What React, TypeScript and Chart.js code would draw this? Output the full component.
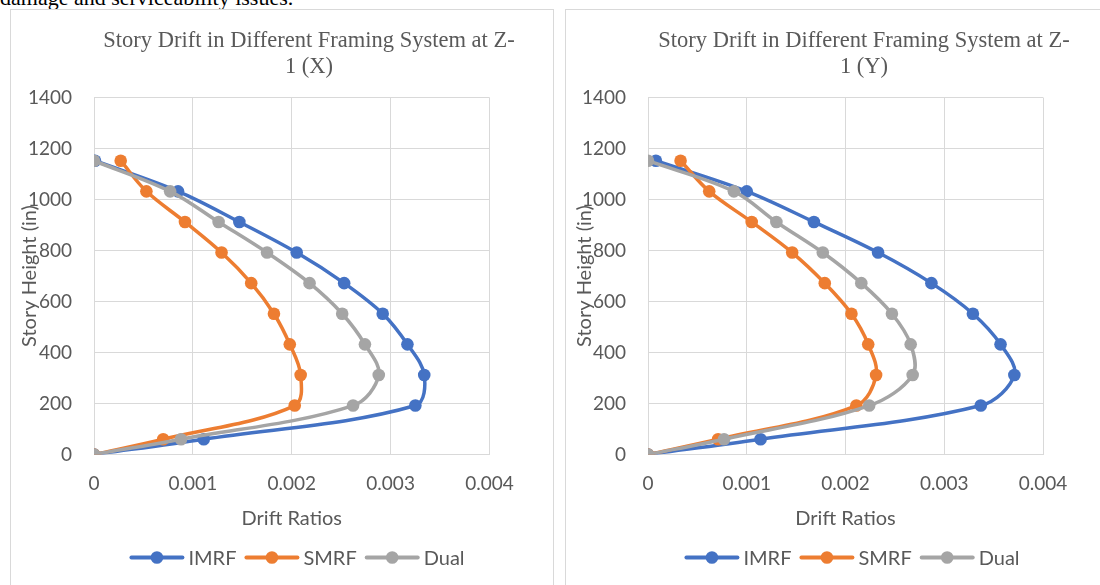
import React, { useEffect, useRef } from 'react';
import { Chart, registerables } from 'chart.js';

Chart.register(...registerables);

// ---------- data ----------
const storyHeights = [0, 60, 192, 312, 432, 552, 672, 792, 912, 1032, 1152];

const seriesNames = ['IMRF', 'SMRF', 'Dual'];
const seriesColors = ['#4472C4', '#ED7D31', '#A5A5A5'];

// Z-1 (X) drift ratios
const imrfX = [0, 0.00111, 0.00325, 0.00334, 0.00317, 0.00292, 0.00253, 0.00205, 0.00147, 0.00085, 0.00001];
const smrfX = [0, 0.0007, 0.00203, 0.00209, 0.00198, 0.00182, 0.00159, 0.00129, 0.00092, 0.00053, 0.00027];
const dualX = [0, 0.00088, 0.00262, 0.00288, 0.00274, 0.00251, 0.00218, 0.00175, 0.00126, 0.00077, 0];

// Z-1 (Y) drift ratios
const imrfY = [0, 0.00114, 0.00337, 0.00371, 0.00357, 0.00329, 0.00287, 0.00233, 0.00168, 0.001, 0.00008];
const smrfY = [0, 0.00071, 0.00211, 0.00231, 0.00223, 0.00206, 0.00179, 0.00146, 0.00105, 0.00062, 0.00033];
const dualY = [0, 0.00077, 0.00224, 0.00268, 0.00266, 0.00247, 0.00216, 0.00177, 0.0013, 0.00087, 0];

const xTickLabels = ['0', '0.001', '0.002', '0.003', '0.004'];
const yTickLabels = ['0', '200', '400', '600', '800', '1000', '1200', '1400'];

const titleX = ['Story Drift in Different Framing System at Z-', '1 (X)'];
const titleY = ['Story Drift in Different Framing System at Z-', '1 (Y)'];
const xAxisTitle = 'Drift Ratios';
const yAxisTitle = 'Story Height (in)';
const pageText = 'damage and serviceability issues.';

// ---------- styling ----------
const SANS = 'Lato, "Open Sans", sans-serif';
const SERIF = '"Liberation Serif", "Times New Roman", serif';
const TEXT = '#595959';
const GRID = '#d9d9d9';
const CANVAS_W = 542;
const CANVAS_H = 580;
const TICK_SIZE = 19;
const LABEL_SIZE = 20;

const decorPlugin = {
  id: 'excelDecor',
  afterDraw(chart: any, _args: any, opts: any) {
    const ctx = chart.ctx;
    ctx.save();
    // title
    ctx.font = `${opts.titleSize}px ${SERIF}`;
    ctx.fillStyle = TEXT;
    ctx.textAlign = 'center';
    ctx.textBaseline = 'alphabetic';
    (opts.title as string[]).forEach((t, i) => {
      ctx.fillText(t, opts.titleCx, opts.titleBase + i * opts.titleGap);
    });
    // legend
    ctx.font = `${LABEL_SIZE}px ${SANS}`;
    ctx.textAlign = 'left';
    ctx.textBaseline = 'middle';
    const lineLen = 51;
    const gapLT = 6;
    const gapItem = 10;
    const widths = seriesNames.map((n) => ctx.measureText(n).width);
    const total =
      widths.reduce((a, w) => a + lineLen + gapLT + w, 0) + gapItem * (seriesNames.length - 1);
    let x = opts.legendCx - total / 2;
    const y = opts.legendY;
    seriesNames.forEach((n, i) => {
      ctx.strokeStyle = seriesColors[i];
      ctx.lineWidth = 4;
      ctx.lineCap = 'round';
      ctx.beginPath();
      ctx.moveTo(x, y);
      ctx.lineTo(x + lineLen, y);
      ctx.stroke();
      ctx.fillStyle = seriesColors[i];
      ctx.beginPath();
      ctx.arc(x + lineLen / 2, y, 6.3, 0, Math.PI * 2);
      ctx.fill();
      ctx.fillStyle = TEXT;
      ctx.fillText(n, x + lineLen + gapLT, y + 1);
      x += lineLen + gapLT + widths[i] + gapItem;
    });
    ctx.restore();
  },
};

type Props = {
  title: string[];
  values: number[][];
  areaLeft: number;
  areaRight: number;
  areaTop: number;
  areaBottom: number;
};

function DriftChart({ title, values, areaLeft, areaRight, areaTop, areaBottom }: Props) {
  const ref = useRef<HTMLCanvasElement>(null);
  useEffect(() => {
    const xScaleH = 80;
    const chart = new Chart(ref.current as HTMLCanvasElement, {
      type: 'scatter',
      data: {
        datasets: seriesNames.map((name, i) => ({
          label: name,
          data: values[i].map((v, k) => ({ x: v, y: storyHeights[k] })),
          showLine: true,
          borderColor: seriesColors[i],
          backgroundColor: seriesColors[i],
          pointBackgroundColor: seriesColors[i],
          pointBorderColor: seriesColors[i],
          borderWidth: 3.5,
          pointRadius: 6.3,
          pointBorderWidth: 0,
          tension: 0.35,
          order: seriesNames.length - i,
        })),
      },
      options: {
        animation: false,
        responsive: false,
        devicePixelRatio: 1,
        layout: {
          padding: {
            left: 0,
            top: areaTop,
            right: CANVAS_W - areaRight,
            bottom: CANVAS_H - areaBottom - xScaleH,
          },
        },
        plugins: {
          legend: { display: false },
          title: { display: false },
          tooltip: { enabled: false },
          excelDecor: {
            title,
            titleSize: 22.5,
            titleCx: 298,
            titleBase: 37,
            titleGap: 26,
            legendCx: 287,
            legendY: 547.5,
          },
        } as any,
        scales: {
          x: {
            type: 'linear',
            min: 0,
            max: 0.004,
            afterFit: (s: any) => {
              s.height = xScaleH;
            },
            ticks: {
              stepSize: 0.001,
              color: TEXT,
              font: { family: SANS, size: TICK_SIZE },
              padding: 17.5,
              maxRotation: 0,
              callback: (_v: any, i: number) => xTickLabels[i],
            },
            grid: { color: GRID, drawTicks: false, lineWidth: 1 },
            border: { color: GRID },
            title: {
              display: true,
              text: xAxisTitle,
              color: TEXT,
              font: { family: SANS, size: LABEL_SIZE },
              padding: { top: 0, bottom: 3.5 },
            },
          },
          y: {
            type: 'linear',
            min: 0,
            max: 1400,
            afterFit: (s: any) => {
              s.width = areaLeft;
            },
            ticks: {
              stepSize: 200,
              color: TEXT,
              font: { family: SANS, size: TICK_SIZE },
              padding: 22,
              callback: (_v: any, i: number) => yTickLabels[i],
            },
            grid: { color: GRID, drawTicks: false, lineWidth: 1 },
            border: { color: GRID },
            title: {
              display: true,
              text: yAxisTitle,
              color: TEXT,
              font: { family: SANS, size: LABEL_SIZE },
              padding: { top: 7, bottom: 0 },
            },
          },
        },
      },
      plugins: [decorPlugin],
    });
    return () => chart.destroy();
  }, []);
  return <canvas ref={ref} width={CANVAS_W} height={CANVAS_H} style={{ display: 'block' }} />;
}

export default function App() {
  return (
    <div
      style={{
        position: 'fixed',
        inset: 0,
        overflow: 'hidden',
        background: '#fff',
      }}
    >
      <div
        style={{
          position: 'absolute',
          left: 0,
          top: -15,
          fontFamily: SERIF,
          fontSize: 22,
          lineHeight: '26px',
          color: '#000',
          whiteSpace: 'nowrap',
        }}
      >
        {pageText}
      </div>
      <div
        style={{
          position: 'absolute',
          left: 10,
          top: 9,
          width: CANVAS_W,
          height: CANVAS_H,
          border: `1px solid ${GRID}`,
          background: '#fff',
          overflow: 'hidden',
        }}
      >
        <DriftChart
          title={titleX}
          values={[imrfX, smrfX, dualX]}
          areaLeft={83}
          areaRight={478.5}
          areaTop={87.5}
          areaBottom={444.5}
        />
      </div>
      <div
        style={{
          position: 'absolute',
          left: 565,
          top: 9,
          width: CANVAS_W,
          height: CANVAS_H,
          border: `1px solid ${GRID}`,
          background: '#fff',
          overflow: 'hidden',
        }}
      >
        <DriftChart
          title={titleY}
          values={[imrfY, smrfY, dualY]}
          areaLeft={82}
          areaRight={477}
          areaTop={87.5}
          areaBottom={444.5}
        />
      </div>
    </div>
  );
}
